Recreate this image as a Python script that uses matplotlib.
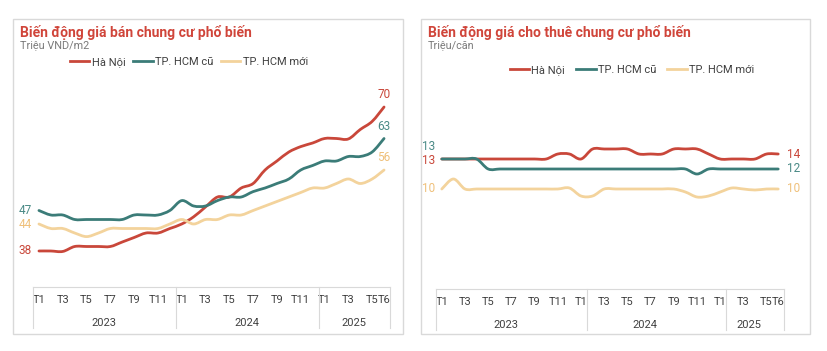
import matplotlib
matplotlib.use("Agg")
import matplotlib.pyplot as plt
import numpy as np
from matplotlib.path import Path
from matplotlib.patches import PathPatch, Rectangle
from matplotlib.lines import Line2D
import matplotlib.transforms as mtransforms

plt.rcParams['font.family'] = ['Roboto', 'DejaVu Sans']

# months T1/2023 .. T6/2025
tick_labels = ['T1', '', 'T3', '', 'T5', '', 'T7', '', 'T9', '', 'T11', '',
               'T1', '', 'T3', '', 'T5', '', 'T7', '', 'T9', '', 'T11', '',
               'T1', '', 'T3', '', 'T5', 'T6']
years = ['2023', '2024', '2025']
year_len = [12, 12, 6]

series_names = ['Hà Nội', 'TP. HCM cũ', 'TP. HCM mới']

# gia ban (trieu VND/m2)
sale_hn = [38, 38, 37.9, 39, 39, 39, 39, 40, 41, 42, 42, 43, 44, 45.6, 47.8,
           50, 50, 52, 53, 56, 58, 60, 61.2, 62, 63, 63, 62.9, 65, 66.8, 70]
sale_hcm_old = [47, 46, 46, 45, 45, 45, 45, 45, 46, 46, 46, 47, 49.2, 48, 48,
                49.2, 50, 50, 51.2, 52, 53, 54, 56, 57, 58, 58, 59, 59, 60, 63]
sale_hcm_new = [44, 43, 43, 42, 41.2, 42, 43, 43, 43, 43, 43, 44, 45, 44, 45,
                45, 46, 46, 47, 48, 49, 50, 51, 52, 52, 53, 54, 53, 54, 56]

# gia thue (trieu/can)
rent_hn = [13, 13, 13, 13, 13, 13, 13, 13, 13, 13, 13.5, 13.5, 13, 14, 14,
           14, 14, 13.5, 13.5, 13.5, 14, 14, 14, 13.5, 13, 13, 13, 13, 13.5, 13.5]
rent_hcm_old = [13, 13, 13, 13, 12, 12, 12, 12, 12, 12, 12, 12, 12, 12, 12,
                12, 12, 12, 12, 12, 12, 12, 11.5, 12, 12, 12, 12, 12, 12, 12]
rent_hcm_new = [10, 11, 10, 10, 10, 10, 10, 10, 10, 10, 10, 10.1, 9.3, 9.3, 10,
                10, 10, 10, 10, 10, 10, 9.7, 9.2, 9.3, 9.7, 10.1, 10, 9.9, 10, 10]

RED = '#c9473a'
TEAL = '#3b7c78'
TAN = '#f3d39c'
TAN_TXT = '#efc07a'
colors = [RED, TEAL, TAN]
label_colors = [RED, '#4a8a86', TAN_TXT]
GRID = '#d9d9d9'
TXT = '#404040'

W, H = 827, 351
fig = plt.figure(figsize=(W / 100, H / 100), dpi=100)


def fx(px):
    return px / W


def fy(py):
    return 1 - py / H


def smooth(x, y):
    # bezier path through the points, like a smoothed office line
    pts = np.column_stack([x, y]).astype(float)
    n = len(pts)
    verts = [pts[0]]
    codes = [Path.MOVETO]
    for i in range(n - 1):
        p0 = pts[i - 1] if i > 0 else pts[i]
        p1 = pts[i]
        p2 = pts[i + 1]
        p3 = pts[i + 2] if i + 2 < n else pts[i + 1]
        c1 = p1 + (p2 - p0) / 6
        c2 = p2 - (p3 - p1) / 6
        verts += [c1, c2, p2]
        codes += [Path.CURVE4] * 3
    return Path(verts, codes)


def panel(box, ax_rect, ylim, data, title, unit, seps, leg_pos, leg_gap,
          left_lbl, right_lbl):
    fig.patches.append(Rectangle((fx(box[0]), fy(box[3])), fx(box[2] - box[0]),
                                 (box[3] - box[1]) / H, transform=fig.transFigure,
                                 fill=False, ec=GRID, lw=1.0))
    fig.text(fx(box[0] + 7), fy(32), title, color='#d0453a', fontsize=10,
             fontweight='bold', va='center', ha='left')
    fig.text(fx(box[0] + 7), fy(45.5), unit, color='#7a7a7a', fontsize=7.8,
             va='center', ha='left')

    ax = fig.add_axes([fx(ax_rect[0]), fy(ax_rect[3]), fx(ax_rect[2] - ax_rect[0]),
                       (ax_rect[3] - ax_rect[1]) / H])
    n = len(tick_labels)
    x = np.arange(n)
    ax.set_xlim(-0.5, n - 0.5)
    ax.set_ylim(*ylim)
    for s in ['top', 'right', 'left']:
        ax.spines[s].set_visible(False)
    ax.spines['bottom'].set_color(GRID)
    ax.spines['bottom'].set_linewidth(0.8)
    ax.set_yticks([])
    ax.set_xticks(x)
    ax.set_xticklabels(tick_labels, fontsize=8, color=TXT)
    ax.tick_params(axis='x', length=0, pad=6)

    for vals, c in zip(data, colors):
        ax.add_patch(PathPatch(smooth(x, vals), fill=False, ec=c, lw=2.0,
                               capstyle='round', joinstyle='round'))

    trans = mtransforms.blended_transform_factory(ax.transData, ax.transAxes)
    depth = 41 / (ax_rect[3] - ax_rect[1])
    for sx in [-0.5] + seps + [n - 0.5]:
        ax.add_line(Line2D([sx, sx], [0, -depth], transform=trans, color=GRID,
                           lw=0.8, clip_on=False))
    start = 0
    for yr, ln in zip(years, year_len):
        ax.text(start + (ln - 1) / 2, -36 / (ax_rect[3] - ax_rect[1]), yr,
                transform=trans, ha='center', va='center', fontsize=8, color=TXT)
        start += ln

    for k, (vals, c) in enumerate(zip(data, label_colors)):
        dy, txt = left_lbl[k]
        ax.annotate(txt, (0, vals[0]), xytext=(-5, dy), textcoords='offset points',
                    ha='right', va='center', fontsize=8.5, color=c)
        dx, dy, txt, ha = right_lbl[k]
        ax.annotate(txt, (n - 1, vals[-1]), xytext=(dx, dy), textcoords='offset points',
                    ha=ha, va='center', fontsize=8.5, color=c)

    handles = [Line2D([], [], color=c, lw=2.0) for c in colors]
    fig.legend(handles, series_names, loc='center', bbox_to_anchor=leg_pos,
               ncol=3, frameon=False, fontsize=8, handlelength=1.75,
               handletextpad=0.2, columnspacing=leg_gap, labelcolor=TXT)
    return ax


panel((13, 19, 403, 334), (33, 89, 390, 287), (30, 74),
      [sale_hn, sale_hcm_old, sale_hcm_new],
      'Biến động giá bán chung cư phổ biến', 'Triệu VND/m2',
      [11.5, 23.5], (fx(189), fy(62)), 0.7,
      [(0, '38'), (0, '47'), (0, '44')],
      [(0, 9, '70', 'center'), (0, 9, '63', 'center'), (0, 9, '56', 'center')])

panel((421, 19, 810, 334), (436, 89, 784, 289), (0, 20),
      [rent_hn, rent_hcm_old, rent_hcm_new],
      'Biến động giá cho thuê chung cư phổ biến', 'Triệu/căn',
      [12.5, 24.5], (fx(632), fy(70)), 1.0,
      [(-1, '13'), (9, '13'), (0, '10')],
      [(6, 0, '14', 'left'), (6, 0, '12', 'left'), (6, 0, '10', 'left')])

fig.savefig('out.png', dpi=100)
